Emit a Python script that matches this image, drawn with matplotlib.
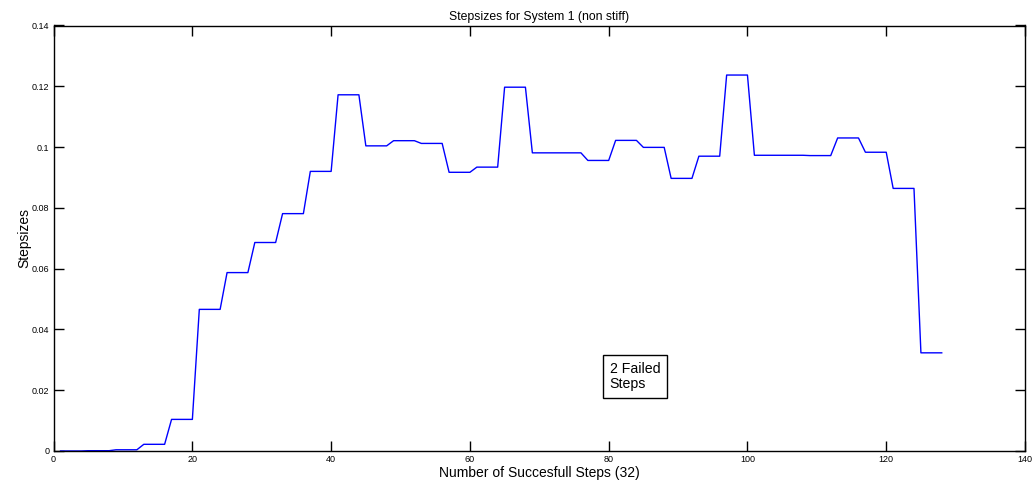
import numpy as np
import matplotlib
matplotlib.use("Agg")
import matplotlib.pyplot as plt

# Step size accepted at each successful step (each held over 4 sub-evaluations)
step_values = [0.00001, 0.0001, 0.0004, 0.0022, 0.0104, 0.0466, 0.0587, 0.0686,
               0.0781, 0.0920, 0.1172, 0.1004, 0.1021, 0.1012, 0.0917, 0.0934,
               0.1197, 0.0981, 0.0981, 0.0956, 0.1022, 0.0999, 0.0897, 0.0970,
               0.1237, 0.0973, 0.0973, 0.0972, 0.1030, 0.0983, 0.0864, 0.0323]
points_per_step = 4
x_ticks = [0, 20, 40, 60, 80, 100, 120, 140]
y_ticks = [0, 0.02, 0.04, 0.06, 0.08, 0.1, 0.12, 0.14]
y_tick_labels = ["0", "0.02", "0.04", "0.06", "0.08", "0.1", "0.12", "0.14"]

y = np.repeat(step_values, points_per_step)
x = np.arange(1, len(y) + 1)

plt.rcParams['font.family'] = ['Liberation Sans', 'DejaVu Sans']

fig = plt.figure(figsize=(10.36, 4.84), dpi=100)
ax = fig.add_axes([53.6 / 1036, 1 - 451 / 484, (1025 - 53.6) / 1036, (451 - 25.5) / 484])
ax.plot(x, y, color='#0000ff', linewidth=1.0)

ax.set_xlim(0, 140)
ax.set_ylim(0, 0.14)
ax.set_xticks(x_ticks)
ax.set_xticklabels([str(t) for t in x_ticks])
ax.set_yticks(y_ticks)
ax.set_yticklabels(y_tick_labels)
ax.tick_params(direction='in', length=7, width=1.0, labelsize=6.5,
               top=True, right=True, pad=3)
for s in ax.spines.values():
    s.set_linewidth(1.0)

ax.set_title("Stepsizes for System 1 (non stiff)", fontsize=8.8, pad=4)
ax.set_xlabel("Number of Succesfull Steps (32)", fontsize=10, labelpad=1)
ax.set_ylabel("Stepsizes", fontsize=10, labelpad=0)

ax.text(80.15, 0.0293, "2 Failed\nSteps", fontsize=10.2, ha='left', va='top',
        linespacing=1.1,
        bbox=dict(boxstyle='square,pad=0.5', facecolor='white', edgecolor='black', linewidth=1.0))

fig.savefig("out.png", dpi=100)
